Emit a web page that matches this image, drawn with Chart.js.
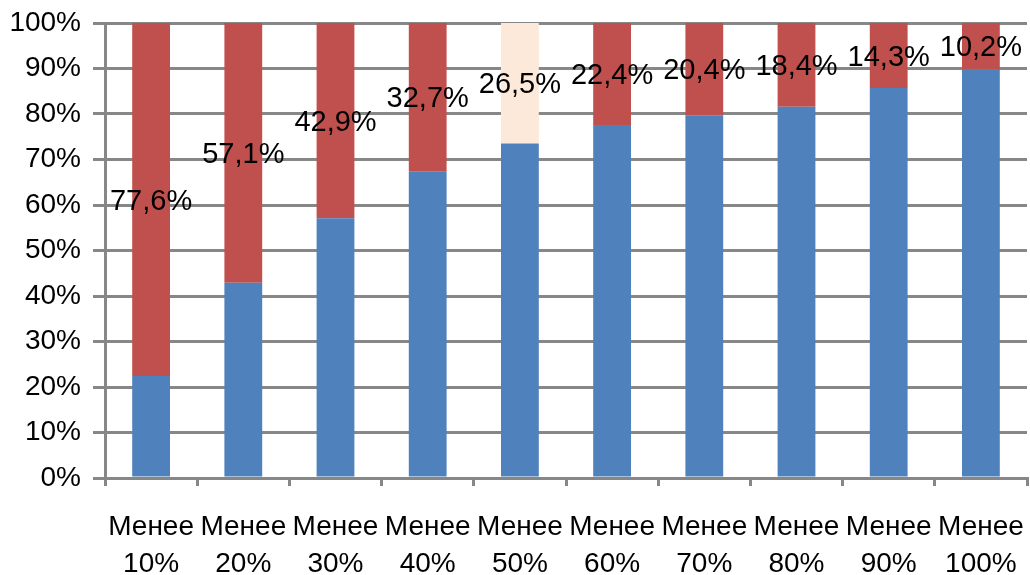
<!DOCTYPE html>
<html>
<head>
<meta charset="utf-8">
<script src="https://cdn.jsdelivr.net/npm/chart.js@4"></script>
<style>
html,body{margin:0;padding:0;background:#fff;}
#wrap{width:1030px;height:575px;}
</style>
</head>
<body>
<div id="wrap"><canvas id="c" width="1030" height="575"></canvas></div>
<script>
const categories = [['Менее','10%'],['Менее','20%'],['Менее','30%'],['Менее','40%'],['Менее','50%'],['Менее','60%'],['Менее','70%'],['Менее','80%'],['Менее','90%'],['Менее','100%']];
const lowerValues = [22.4, 42.9, 57.1, 67.3, 73.5, 77.6, 79.6, 81.6, 85.7, 89.8];
const upperValues = [77.6, 57.1, 42.9, 32.7, 26.5, 22.4, 20.4, 18.4, 14.3, 10.2];
const upperLabels = ['77,6%','57,1%','42,9%','32,7%','26,5%','22,4%','20,4%','18,4%','14,3%','10,2%'];
const yTickValues = [0,10,20,30,40,50,60,70,80,90,100];

const BLUE = '#4F81BD', RED = '#C0504D', PEACH = '#FDE9D9', GRID = '#878787';
const FONT = "'Liberation Sans', Arial, sans-serif";
const upperColors = upperValues.map((v,i) => i === 4 ? PEACH : RED);

const labelPlugin = {
  id: 'segLabels',
  afterDatasetsDraw(chart) {
    const ctx = chart.ctx;
    const meta = chart.getDatasetMeta(1);
    ctx.save();
    ctx.font = '29px ' + FONT;
    ctx.fillStyle = '#000';
    ctx.textAlign = 'center';
    ctx.textBaseline = 'middle';
    meta.data.forEach((el, i) => {
      const p = el.getProps(['x','y','base'], true);
      ctx.fillText(upperLabels[i], p.x, (p.y + p.base) / 2 + 2);
    });
    ctx.restore();
  }
};

new Chart(document.getElementById('c'), {
  type: 'bar',
  data: {
    labels: categories,
    datasets: [
      { data: lowerValues, backgroundColor: BLUE, borderWidth: 0, categoryPercentage: 1, barPercentage: 0.41 },
      { data: upperValues, backgroundColor: upperColors, borderWidth: 0, categoryPercentage: 1, barPercentage: 0.41 }
    ]
  },
  options: {
    responsive: false,
    animation: false,
    layout: { padding: { top: 23, right: 3, left: 0, bottom: 0 } },
    plugins: { legend: { display: false }, tooltip: { enabled: false } },
    scales: {
      x: {
        stacked: true,
        offset: true,
        grid: { display: true, drawOnChartArea: false, drawTicks: true, tickLength: 8, color: GRID, lineWidth: 3, offset: true },
        border: { display: true, color: GRID, width: 3 },
        ticks: { color: '#000', font: { family: FONT, size: 28, lineHeight: 1.35 }, padding: 22, maxRotation: 0, autoSkip: false },
        afterFit(s) { s.height = 97; s.paddingLeft = 0; s.paddingRight = 0; }
      },
      y: {
        stacked: true,
        min: 0, max: 100,
        afterBuildTicks(s) { s.ticks = yTickValues.map(v => ({ value: v })); },
        grid: { color: GRID, lineWidth: 3, tickLength: 12, drawTicks: true },
        border: { display: true, color: GRID, width: 3 },
        ticks: { color: '#000', font: { family: FONT, size: 28 }, padding: 12, callback: v => v + '%' },
        afterFit(s) { s.width = 105; s.paddingTop = 0; s.paddingBottom = 0; }
      }
    }
  },
  plugins: [labelPlugin]
});
</script>
</body>
</html>
